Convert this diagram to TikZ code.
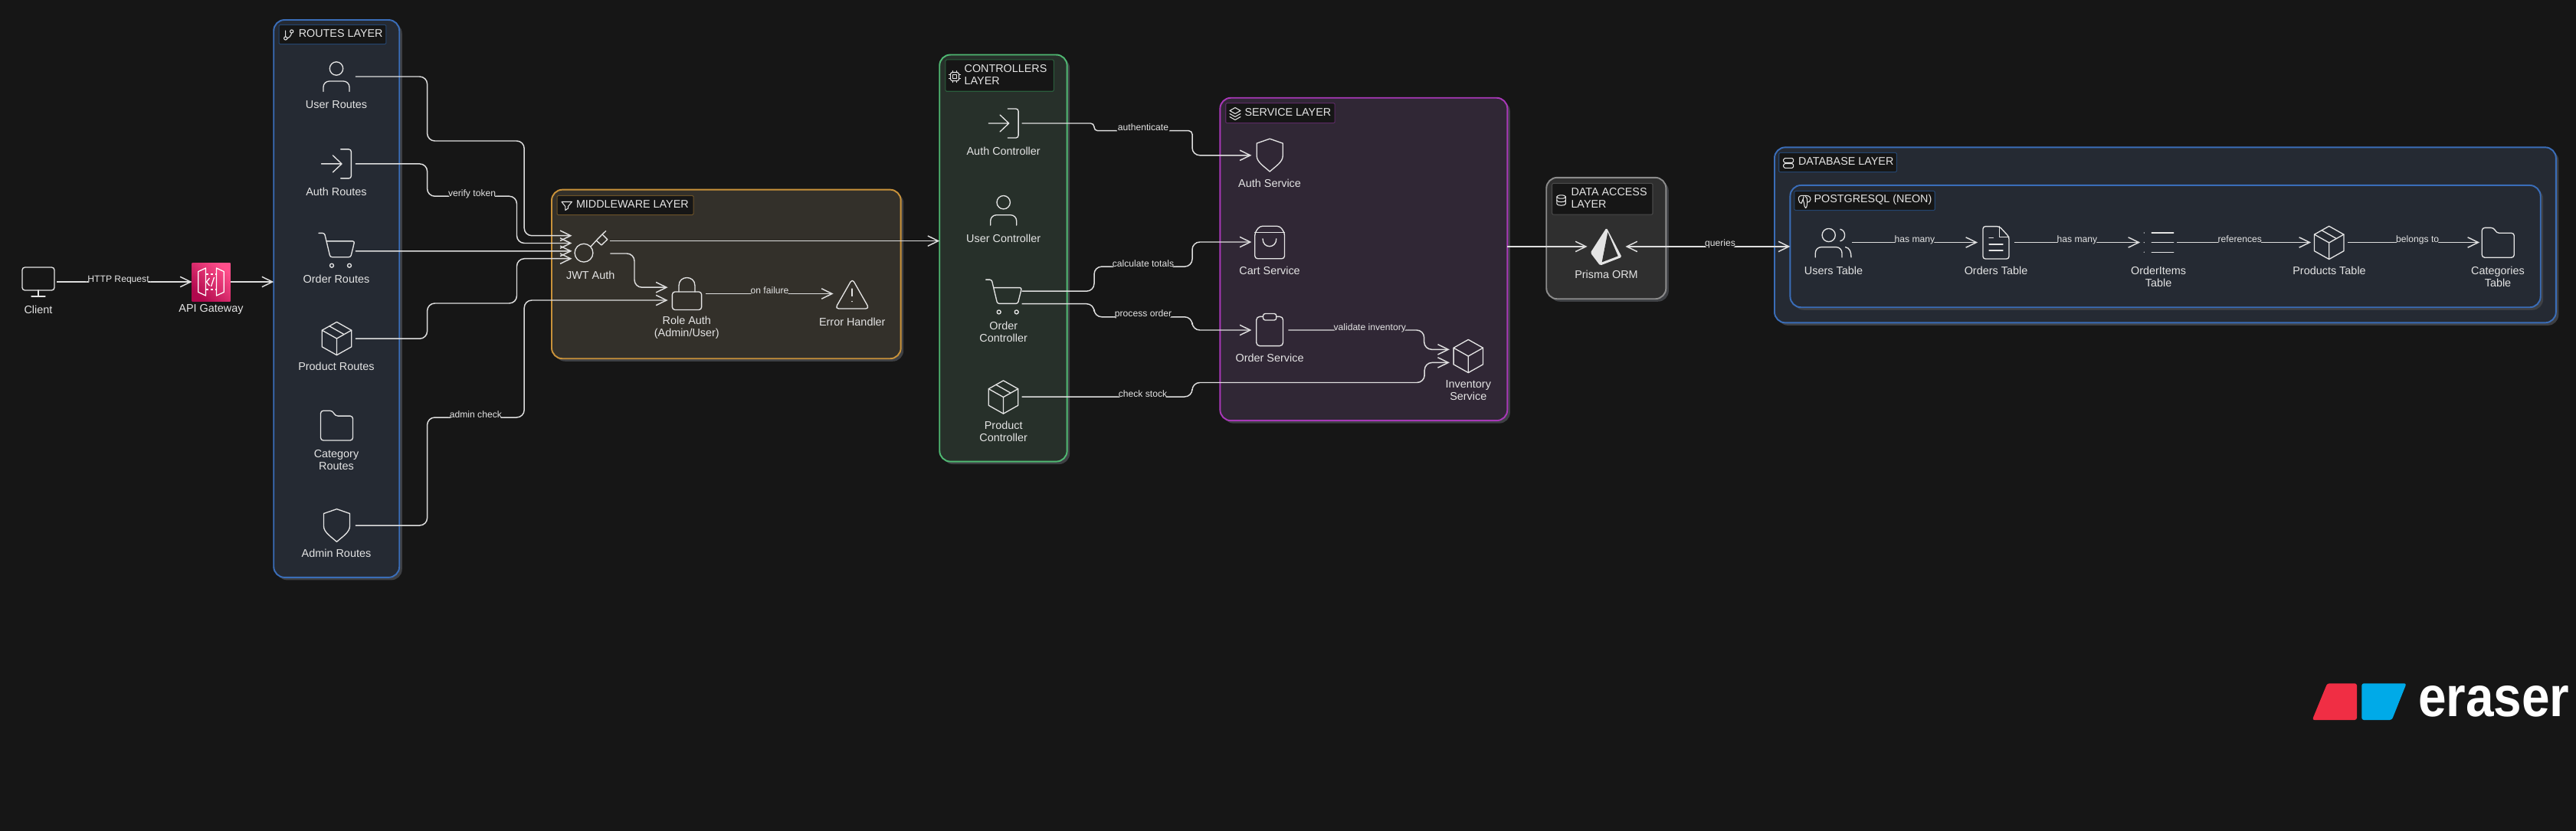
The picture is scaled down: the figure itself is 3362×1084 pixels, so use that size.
\documentclass[tikz,border=0pt]{standalone}
\usepackage{fontspec}
\setmainfont{Liberation Sans}
\usetikzlibrary{arrows.meta,calc}
\definecolor{bgc}{HTML}{161616}
\definecolor{blueF}{HTML}{252A33}
\definecolor{blueB}{HTML}{3A6DB8}
\definecolor{blueT}{HTML}{24456F}
\definecolor{amberF}{HTML}{33302A}
\definecolor{amberB}{HTML}{C9923A}
\definecolor{amberT}{HTML}{6B5228}
\definecolor{greenF}{HTML}{27302A}
\definecolor{greenB}{HTML}{4FB872}
\definecolor{greenT}{HTML}{2B5E3C}
\definecolor{purpF}{HTML}{302735}
\definecolor{purpB}{HTML}{A838B8}
\definecolor{purpT}{HTML}{5A2A63}
\definecolor{grayF}{HTML}{2F2F2F}
\definecolor{grayB}{HTML}{8C8C8C}
\definecolor{grayT}{HTML}{4A4A4A}
\definecolor{shadowc}{HTML}{3E4044}
\definecolor{linec}{HTML}{DEDEDE}
\definecolor{inkc}{HTML}{E4E4E4}
\definecolor{awsA}{HTML}{B0084D}
\definecolor{awsB}{HTML}{FF4F8B}
\definecolor{logoR}{HTML}{F02E44}
\definecolor{logoB}{HTML}{00AAE8}
\tikzset{
  x=0.01cm,y=-0.01cm,
  lbox/.style={rectangle,rounded corners=4pt,inner sep=0,outer sep=0,line width=0.55pt},
  lshadow/.style={rectangle,rounded corners=4pt,inner sep=0,outer sep=0,fill=shadowc},
  ltitle/.style={rectangle,inner sep=0,outer sep=0,fill=bgc,line width=0.3pt,rounded corners=0.4pt},
  ttext/.style={anchor=west,inner sep=0,outer sep=0,text=inkc,align=left,font=\fontsize{4.08}{4.5}\selectfont},
  ntext/.style={inner sep=0,outer sep=0,text=inkc,align=center,font=\fontsize{4.1}{4.5}\selectfont},
  ibox/.style={rectangle,inner sep=0,outer sep=0,minimum width=#1*0.2835pt,minimum height=14.2pt},
  conn/.style={draw=linec,line width=0.42pt,rounded corners=2.8pt,-{Straight Barb[length=3.9pt,width=3.8pt]}},
  elab/.style={anchor=base,inner xsep=0.5pt,inner ysep=0.35pt,outer sep=0,text=inkc,text depth=0.5pt,font=\fontsize{3.45}{3.7}\selectfont,fill=#1},
  elab/.default=bgc,
  icon/.style={draw=inkc,line width=0.38pt,line join=round,line cap=round},
  mini/.style={draw=inkc,line width=0.3pt,line join=round,line cap=round},
}
\newcommand\layerbox[7]{%
  \pgfmathsetmacro\LBw{(#4-#2)*0.2835}\pgfmathsetmacro\LBh{(#5-#3)*0.2835}%
  \pgfmathsetmacro\LBx{(#2+#4)/2}\pgfmathsetmacro\LBy{(#3+#5)/2}%
  \node[lshadow,minimum width=\LBw pt,minimum height=\LBh pt] (#1-shadow) at (\LBx+3.5,\LBy+3.5) {};
  \node[lbox,fill=#6,draw=#7,minimum width=\LBw pt,minimum height=\LBh pt] (#1) at (\LBx,\LBy) {};}
\newcommand\layertitle[6]{%
  \pgfmathsetmacro\LBw{(#4-#2)*0.2835}\pgfmathsetmacro\LBh{(#5-#3)*0.2835}%
  \pgfmathsetmacro\LBx{(#2+#4)/2}\pgfmathsetmacro\LBy{(#3+#5)/2}%
  \node[ltitle,draw=#6,minimum width=\LBw pt,minimum height=\LBh pt] (#1) at (\LBx,\LBy) {};}
\newcommand\icoPerson[2]{\begin{scope}[shift={(#1,#2)}]
  \draw[icon] (0,-14.5) circle [radius=8.7];
  \draw[icon,rounded corners=2.2pt] (-17,15.4) -- (-17,2) -- (17,2) -- (17,15.4);
\end{scope}}
\newcommand\icoLogin[2]{\begin{scope}[shift={(#1,#2)}]
  \draw[icon] (-19.5,0) -- (7,0) (-4.6,-11) -- (7,0) -- (-4.6,11);
  \draw[icon,rounded corners=0.9pt] (5.6,-19) -- (19.4,-19) -- (19.4,19) -- (5.6,19);
\end{scope}}
\newcommand\icoCart[2]{\begin{scope}[shift={(#1,#2)}]
  \draw[icon,rounded corners=0.7pt] (-23,-23.4) -- (-15.5,-23.4) -- (-8,7.9) -- (18.7,7.9) -- (23.8,-12.9) -- (-13,-12.9);
  \draw[icon] (-6,18.9) circle [radius=2.5] (17,18.9) circle [radius=2.5];
\end{scope}}
\newcommand\icoCube[2]{\begin{scope}[shift={(#1,#2)}]
  \draw[icon] (0,-21.6) -- (19.2,-10.8) -- (19.2,10.8) -- (0,21.6) -- (-19.2,10.8) -- (-19.2,-10.8) -- cycle;
  \draw[icon] (-19.2,-10.8) -- (0,0) -- (19.2,-10.8) (0,0) -- (0,21.6);
\end{scope}}
\newcommand\icoPackage[2]{\icoCube{#1}{#2}\begin{scope}[shift={(#1,#2)}]
  \draw[icon] (-9.6,-16.2) -- (9.6,-5.4);
\end{scope}}
\newcommand\icoFolder[2]{\begin{scope}[shift={(#1,#2)}]
  \draw[icon,rounded corners=1pt] (-21,-19.4) -- (-5.5,-19.4) -- (-2,-12.5) -- (21,-12.5) -- (21,19.4) -- (-21,19.4) -- cycle;
\end{scope}}
\newcommand\icoShield[2]{\begin{scope}[shift={(#1,#2)}]
  \draw[icon] (0,-21.4) -- (17,-15.5) -- (17,1) .. controls (17,9) and (7,15) .. (0,21.4) .. controls (-7,15) and (-17,9) .. (-17,1) -- (-17,-15.5) -- cycle;
\end{scope}}
\begin{document}
\begin{tikzpicture}
\useasboundingbox (0,0) rectangle (3362,1084);
\fill[bgc] (-10,-10) rectangle (3372,1094);
% ---------- layers
\layerbox{routes}{357}{24.9}{521.5}{755}{blueF}{blueB}
\layerbox{middle}{719.3}{247.3}{1176.4}{468.6}{amberF}{amberB}
\layerbox{ctrl}{1226}{70.7}{1392.9}{603.4}{greenF}{greenB}
\layerbox{svc}{1591.8}{127.1}{1967.9}{549.8}{purpF}{purpB}
\layerbox{data}{2018}{231.6}{2174.6}{390.5}{grayF}{grayB}
\layerbox{db}{2314.4}{192}{3337.4}{421.7}{blueF}{blueB}
\layerbox{pg}{2334.9}{241.7}{3317.2}{401.5}{blueF}{blueB}
% ---------- layer titles
\layertitle{routes-t}{364}{32.3}{504}{57.7}{blueT}
\layertitle{middle-t}{726.8}{255.3}{905.3}{280.6}{amberT}
\layertitle{ctrl-t}{1233.7}{77.9}{1375.5}{119.3}{greenT}
\layertitle{svc-t}{1599.5}{134.6}{1742.3}{160.7}{purpT}
\layertitle{data-t}{2025.5}{239.3}{2157.2}{280.2}{grayT}
\layertitle{db-t}{2321.5}{199.3}{2475.5}{224.7}{blueT}
\layertitle{pg-t}{2341.6}{249.3}{2525.5}{274.7}{blueT}
\node[ttext] (routes-x) at (389.8,43.8) {ROUTES LAYER};
\node[ttext] (middle-x) at (752,266.6) {MIDDLEWARE LAYER};
\node[ttext] (ctrl-x) at (1258.7,97.3) {CONTROLLERS\\LAYER};
\node[ttext] (svc-x) at (1624.5,146.8) {SERVICE LAYER};
\node[ttext] (data-x) at (2050.5,258.8) {DATA ACCESS\\LAYER};
\node[ttext] (db-x) at (2347,210.7) {DATABASE LAYER};
\node[ttext] (pg-x) at (2367.5,261) {POSTGRESQL (NEON)};
% ---------- anchors for the icons
\node[ibox=49] (client) at (50,368) {};
\node[ibox=50] (api) at (275.5,368) {};
\node[ibox=50] (uroutes) at (439,100) {};
\node[ibox=50] (aroutes) at (439,213.9) {};
\node[ibox=50] (oroutes) at (439,327.8) {};
\node[ibox=50] (proutes) at (439,442.2) {};
\node[ibox=50] (croutes) at (439,555.6) {};
\node[ibox=50] (adroutes) at (439,686) {};
\node[ibox=50] (jwt) at (771.4,331) {};
\node[ibox=50] (role) at (896.5,383.5) {};
\node[ibox=50] (err) at (1112.6,383.5) {};
\node[ibox=48] (actrl) at (1309.7,161) {};
\node[ibox=48] (uctrl) at (1309.7,278.7) {};
\node[ibox=48] (octrl) at (1309.7,388.5) {};
\node[ibox=48] (pctrl) at (1309.7,518) {};
\node[ibox=48] (asvc) at (1657.4,202.8) {};
\node[ibox=48] (csvc) at (1657.4,316) {};
\node[ibox=48] (osvc) at (1657.4,431) {};
\node[ibox=49] (isvc) at (1916.3,465) {};
\node[ibox=50] (prisma) at (2096.5,321.9) {};
\node[ibox=48] (users) at (2393,316.5) {};
\node[ibox=48] (orders) at (2605,316.5) {};
\node[ibox=48] (items) at (2817,316.5) {};
\node[ibox=48] (products) at (3040,316.5) {};
\node[ibox=48] (cats) at (3260,316.5) {};
% ---------- connector ports
\coordinate (jwtA) at ($(jwt.west)+(0,-23.3)$);
\coordinate (jwtB) at ($(jwt.west)+(0,-13.5)$);
\coordinate (jwtC) at ($(jwt.west)+(0,-3.2)$);
\coordinate (jwtD) at ($(jwt.west)+(0,6.7)$);
\coordinate (jwtOut) at ($(jwt.east)+(0,-16.4)$);
\coordinate (roleA) at ($(role.west)+(0,-8.3)$);
\coordinate (roleB) at ($(role.west)+(0,8.5)$);
\coordinate (octrlA) at ($(octrl.east)+(0,-8.3)$);
\coordinate (octrlB) at ($(octrl.east)+(0,8.2)$);
\coordinate (isvcA) at ($(isvc.west)+(0,-8.7)$);
\coordinate (isvcB) at ($(isvc.west)+(0,8.4)$);
% ---------- connectors
\draw[conn] (client.east) -- node[elab,pos=0.455] {HTTP Request} (api.west);
\draw[conn] (api.east) -- (routes.west |- api);
\draw[conn] (uroutes.east) -- (557.6,100) -- (557.6,184) -- (684.2,184) -- (684.2,307.7) -- (jwtA);
\draw[conn] (aroutes.east) -- (557.6,213.9) -- (557.6,256.2) -- node[elab] {verify token} (674.5,256.2) -- (674.5,317.5) -- (jwtB);
\draw[conn] (oroutes.east) -- (jwtC);
\draw[conn] (proutes.east) -- (557.6,442.2) -- (557.6,396) -- (674.5,396) -- (674.5,337.7) -- (jwtD);
\draw[conn] (adroutes.east) -- (557.6,686) -- (557.6,545) -- node[elab] {admin check} (684.2,545) -- (684.2,392) -- (roleB);
\draw[conn] (jwtOut) -- (ctrl.west |- jwtOut);
\draw[conn] (jwt.east) -- (828,331) -- (828,375.2) -- (roleA);
\draw[conn] (role.east) -- node[elab=amberF] {on failure} (err.west);
\draw[conn,rounded corners=1.3pt] (actrl.east) -- (1428,161) -- (1428,170.7) -- node[elab] {authenticate} (1556,170.7) [rounded corners=2.8pt] -- (1556,202.8) -- (asvc.west);
\draw[conn] (octrlA) -- (1428,380.2) -- (1428,348.1) -- node[elab] {calculate totals} (1556,348.1) -- (1556,316) -- (csvc.west);
\draw[conn] (octrlB) -- (1428,396.7) -- (1428,413.8) -- node[elab] {process order} (1556,413.8) -- (1556,431) -- (osvc.west);
\draw[conn] (pctrl.east) -- node[elab,pos=0.71] {check stock} (1556,518) -- (1556,499.5) -- (1859.2,499.5) -- (1859.2,473.4) -- (isvcB);
\draw[conn] (osvc.east) -- node[elab=purpF,pos=0.6] {validate inventory} (1858.7,431) -- (1858.7,456.3) -- (isvcA);
\draw[conn] (svc.east |- prisma) -- (prisma.west);
\draw[conn,{Straight Barb[length=3.9pt,width=3.8pt]}-{Straight Barb[length=3.9pt,width=3.8pt]}] (prisma.east) -- node[elab,pos=0.575] {queries} (pg.west |- prisma);
\draw[conn] (users.east) -- node[elab=blueF] {has many} (orders.west);
\draw[conn] (orders.east) -- node[elab=blueF] {has many} (items.west);
\draw[conn] (items.east) -- node[elab=blueF,pos=0.47] {references} (products.west);
\draw[conn] (products.east) -- node[elab=blueF,pos=0.53] {belongs to} (cats.west);
% ---------- client and gateway
\draw[icon,rounded corners=1pt] (29,349) rectangle (71,379);
\draw[icon] (50,379) -- (50,387) (41,387) -- (59,387);
\shade[bottom color=awsA,top color=awsB,shading angle=-45] (250.5,343) rectangle (300.5,393);
\begin{scope}[shift={(275.5,368)}]
  \draw[draw=white,line width=0.36pt,line join=round] (-16.8,-13.4) -- (-7,-18) -- (-7,18) -- (-16.8,13.4) -- cycle;
  \draw[draw=white,line width=0.36pt,line join=round] (16.8,-13.4) -- (7,-18) -- (7,18) -- (16.8,13.4) -- cycle;
  \draw[draw=white,line width=0.36pt,dash pattern=on 1pt off 0.8pt] (-7,-10) -- (7,-10) (-7,10) -- (7,10);
  \draw[draw=white,line width=0.36pt] (-2,-5) -- (-6,0) -- (-2,5) (4,-6) -- (0,6);
\end{scope}
\node[ntext] (client-l) at (50,404.4) {Client};
\node[ntext] (api-l) at (275.5,404.4) {API Gateway};
% ---------- routes layer
\draw[mini] (372.7,50) circle [radius=2.1] (380.7,41) circle [radius=2.1];
\draw[mini] (372.7,40) -- (372.7,47.9) (380.5,43.1) .. controls (380,47) and (377,49.5) .. (374.8,50);
\icoPerson{439}{104}
\icoLogin{439}{213.9}
\icoCart{439}{327.8}
\icoPackage{439.5}{442}
\icoFolder{439.5}{555.6}
\icoShield{439.5}{686}
\node[ntext] (uroutes-l) at (439,136.3) {User Routes};
\node[ntext] (aroutes-l) at (439,250.7) {Auth Routes};
\node[ntext] (oroutes-l) at (439,364.6) {Order Routes};
\node[ntext] (proutes-l) at (439,478.5) {Product Routes};
\node[ntext] (croutes-l) at (439,600.6) {Category\\Routes};
\node[ntext] (adroutes-l) at (439,722.2) {Admin Routes};
% ---------- middleware layer
\draw[mini] (733,263.5) -- (746.4,263.5) -- (741.5,269.5) -- (741.5,272) -- (737.8,274.5) -- (737.8,269.5) -- cycle;
\draw[icon] (762,330.2) circle [radius=11.9];
\draw[icon] (771,322) -- (778.2,314) -- (786,306) -- (792.8,312.6) -- (785,320) -- (778.2,314);
\draw[icon] (786,306) -- (790.7,301.6);
\draw[icon,rounded corners=1pt] (877.4,381) rectangle (915.6,404.5);
\draw[icon] (886,381) -- (886,373) .. controls (886,359) and (907,359) .. (907,373) -- (907,381);
\draw[icon,rounded corners=1.3pt] (1112.3,364) -- (1134.5,403) -- (1090,403) -- cycle;
\draw[icon] (1112,377) -- (1112,386.5) (1112,393.5) -- (1112,393.7);
\node[ntext] (jwt-l) at (770.7,359.2) {JWT Auth};
\node[ntext] (role-l) at (896.3,428) {Role Auth\\(Admin/User)};
\node[ntext] (err-l) at (1112.3,420) {Error Handler};
% ---------- controllers layer
\draw[mini,rounded corners=0.5pt] (1240.5,94.5) rectangle (1251.5,105.5);
\draw[mini] (1243.8,97.8) rectangle (1248.2,102.2);
\draw[mini] (1243.5,92.5) -- (1243.5,94.5) (1248.5,92.5) -- (1248.5,94.5) (1243.5,105.5) -- (1243.5,107.5) (1248.5,105.5) -- (1248.5,107.5) (1238.5,97.5) -- (1240.5,97.5) (1238.5,102.5) -- (1240.5,102.5) (1251.5,97.5) -- (1253.5,97.5) (1251.5,102.5) -- (1253.5,102.5);
\icoLogin{1309.7}{161}
\icoPerson{1309.7}{278.7}
\icoCart{1309.7}{388.5}
\icoPackage{1309.5}{518.5}
\node[ntext] (actrl-l) at (1309.7,197.1) {Auth Controller};
\node[ntext] (uctrl-l) at (1309.7,311) {User Controller};
\node[ntext] (octrl-l) at (1309.7,433.1) {Order\\Controller};
\node[ntext] (pctrl-l) at (1309.7,563) {Product\\Controller};
% ---------- service layer
\draw[mini] (1612,140.5) -- (1619,144.5) -- (1612,148.5) -- (1605,144.5) -- cycle;
\draw[mini] (1605,148.5) -- (1612,152.5) -- (1619,148.5) (1605,152.5) -- (1612,156.5) -- (1619,152.5);
\icoShield{1657.2}{202.6}
\draw[icon,rounded corners=1pt] (1644,295.3) -- (1670.4,295.3) -- (1676.5,303.8) -- (1676.5,337.7) -- (1637.8,337.7) -- (1637.8,303.8) -- cycle;
\draw[icon] (1637.8,303.8) -- (1676.5,303.8);
\draw[icon] (1648,311.7) .. controls (1648,325) and (1665.8,325) .. (1665.8,311.7);
\draw[icon,rounded corners=1.2pt] (1639.8,413.4) rectangle (1674.5,451.6);
\draw[icon,fill=purpF,rounded corners=0.8pt] (1648.5,409.5) rectangle (1665.8,418);
\icoCube{1916.3}{465}
\node[ntext] (asvc-l) at (1657.1,238.9) {Auth Service};
\node[ntext] (csvc-l) at (1657.1,353.1) {Cart Service};
\node[ntext] (osvc-l) at (1657.1,467) {Order Service};
\node[ntext] (isvc-l) at (1916.3,509.7) {Inventory\\Service};
% ---------- data access layer
\draw[mini] (2037.6,257) ellipse [x radius=5.8,y radius=2.2];
\draw[mini] (2031.8,257) -- (2031.8,266) .. controls (2031.8,269) and (2043.4,269) .. (2043.4,266) -- (2043.4,257);
\draw[mini] (2031.8,261.5) .. controls (2031.8,264.5) and (2043.4,264.5) .. (2043.4,261.5);
\fill[inkc,rounded corners=0.5pt] (2096.7,297.3) -- (2116.7,335.7) -- (2088.3,346.7) -- (2075.7,330) -- cycle;
\fill[grayF] (2098.3,303.3) -- (2111.7,334.3) -- (2090.7,342.3) -- cycle;
\node[ntext] (prisma-l) at (2096.5,358.2) {Prisma ORM};
% ---------- database layer
\draw[mini,rounded corners=0.5pt] (2327.7,206.6) rectangle (2340.7,212.3);
\draw[mini,rounded corners=0.5pt] (2327.7,213.6) rectangle (2340.7,219.3);
\draw[mini] (2354,255.5) .. controls (2349,254.5) and (2346.5,257) .. (2347.5,261) .. controls (2348,263.5) and (2349.5,266) .. (2351,265.5) .. controls (2352,265) and (2352,262) .. (2352.5,261) (2354,255.5) .. controls (2359,254.5) and (2363.5,256.5) .. (2363,260.5) .. controls (2362.8,263) and (2360.5,264) .. (2359,264) (2354,257) .. controls (2352.5,259.5) and (2353,262) .. (2354.5,265) .. controls (2355,268) and (2354.8,271) .. (2356.5,271.5) .. controls (2358.5,271) and (2358.5,266) .. (2358.7,262) .. controls (2358.8,259.5) and (2358,257.5) .. (2356.5,256.5);
\draw[icon] (2386.7,307) circle [radius=8.6];
\draw[icon] (2401.8,299.3) .. controls (2409.5,301) and (2409.5,313) .. (2401.8,314.7);
\draw[icon,rounded corners=2.2pt] (2369.3,336) -- (2369.3,322.6) -- (2404,322.6) -- (2404,336);
\draw[icon] (2408.5,322.6) .. controls (2414,323.5) and (2416,329) .. (2416,336);
\draw[icon,rounded corners=0.9pt] (2588,295.6) -- (2609.4,295.6) -- (2622,309.2) -- (2622,338) -- (2588,338) -- cycle;
\draw[icon] (2609.4,295.6) -- (2609.4,309.2) -- (2622,309.2);
\draw[icon] (2596,310.7) -- (2601.4,310.7) (2596,319) -- (2614,319) (2596,327) -- (2614,327);
\draw[icon] (2808.2,304) -- (2836.8,304) (2808.2,316.6) -- (2836.8,316.6) (2808.2,329.2) -- (2836.8,329.2);
\fill[inkc] (2798.3,304) circle [radius=0.7] (2798.3,316.6) circle [radius=0.7] (2798.3,329.2) circle [radius=0.7];
\icoPackage{3039.7}{316.9}
\icoFolder{3260.3}{316.8}
\node[ntext] (users-l) at (2393,353.2) {Users Table};
\node[ntext] (orders-l) at (2605,353.2) {Orders Table};
\node[ntext] (items-l) at (2817.1,361.2) {OrderItems\\Table};
\node[ntext] (products-l) at (3040,353.2) {Products Table};
\node[ntext] (cats-l) at (3260,361.2) {Categories\\Table};
% ---------- logo
\fill[logoR,rounded corners=0.8pt] (3017.7,940) -- (3037.3,892.3) -- (3076,892.3) -- (3076,940) -- cycle;
\fill[logoB,rounded corners=0.8pt] (3082.3,892.3) -- (3140.7,892.3) -- (3121.7,940) -- (3082.3,940) -- cycle;
\node[anchor=base west,inner sep=0,outer sep=0,text=white,font=\fontsize{18.7}{20}\selectfont\bfseries] (logo) at (3156,935) {\scalebox{1}[1.13]{eraser}};
\end{tikzpicture}
\end{document}
